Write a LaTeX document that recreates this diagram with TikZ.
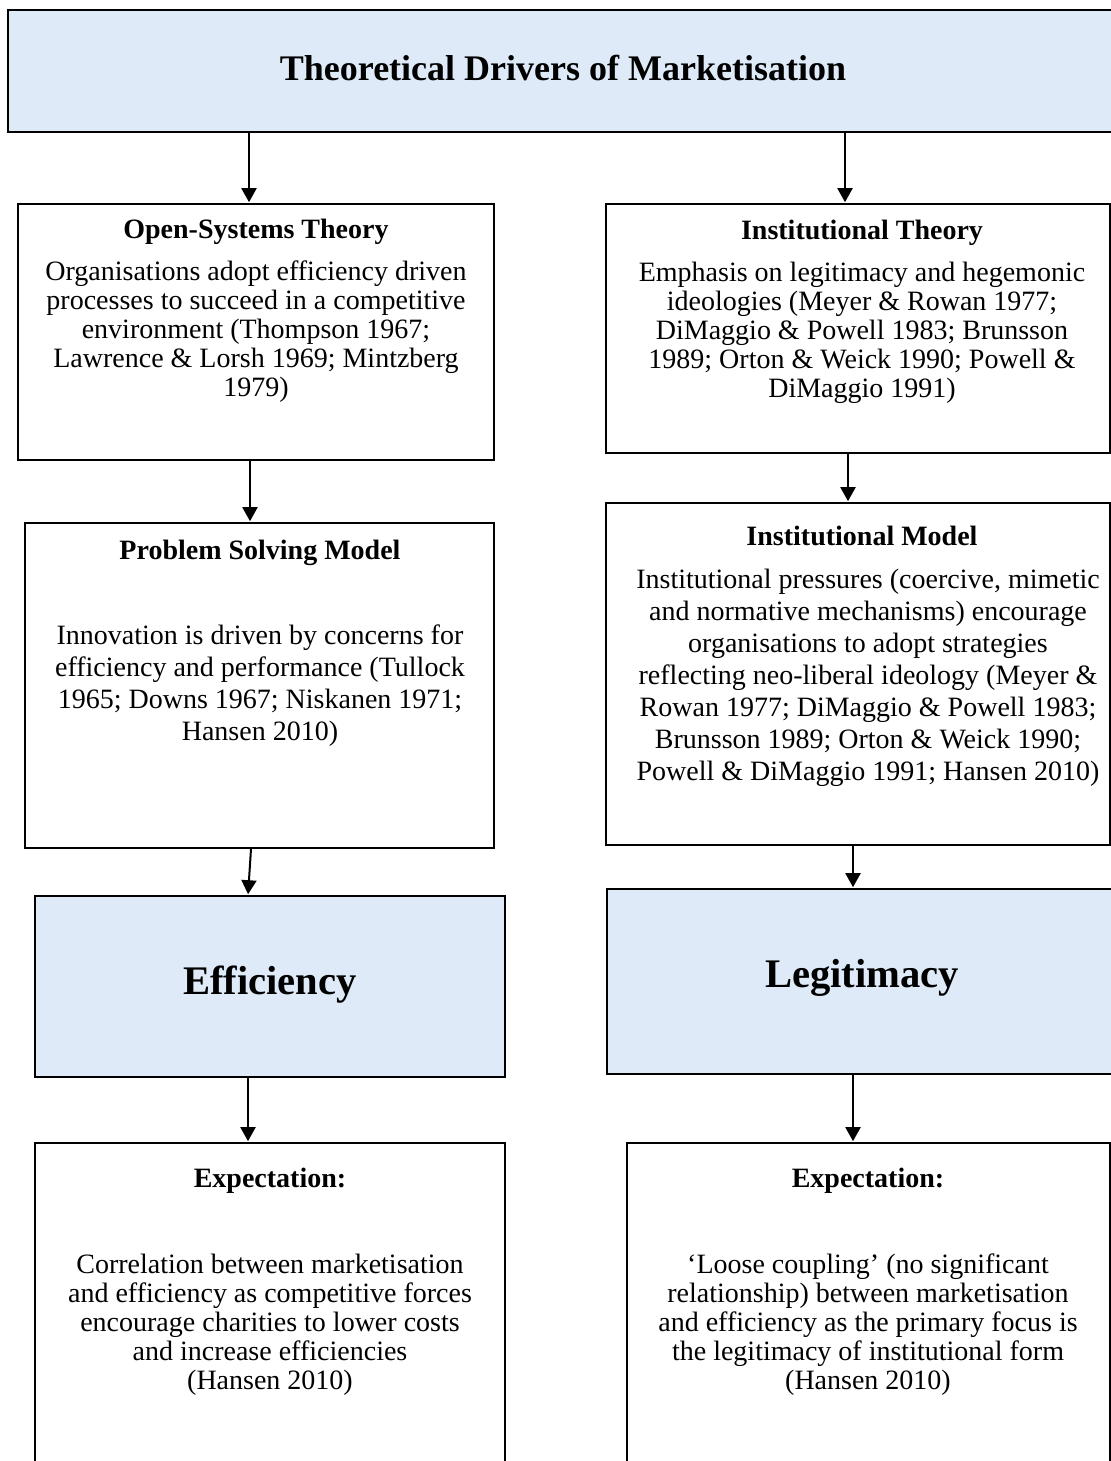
\documentclass[tikz,border=0pt]{standalone}
\usepackage{fontspec}
\setmainfont{Liberation Serif}
\usetikzlibrary{arrows.meta,fit}
\definecolor{boxblue}{HTML}{DEEAF7}
\begin{document}
\begin{tikzpicture}[x=0.5pt,y=-0.5pt,
  box/.style={draw=black,line width=1pt,inner sep=0pt},
  bluebox/.style={box,fill=boxblue},
  conn/.style={line width=1pt,-{Triangle[length=7pt,width=7.5pt]},shorten >=0.4pt},
  head/.style={inner sep=0pt,font=\bfseries\fontsize{14}{16}\selectfont},
  bodyA/.style={align=center,inner sep=0pt,font=\fontsize{14}{14.5}\selectfont},
  bodyB/.style={align=center,inner sep=0pt,font=\fontsize{14}{16}\selectfont},
  big/.style={inner sep=0pt,font=\bfseries\fontsize{20.3}{24}\selectfont},
  titletext/.style={inner sep=0pt,font=\bfseries\fontsize{18}{22}\selectfont}]
\useasboundingbox (0,0) rectangle (1111,1461);
\fill[white] (0,0) rectangle (1111,1461);
\clip (0,0) rectangle (1111,1461);

% boxes
\node[bluebox,fit={(8,10) (1130,132)}] (top) {};
\node[box,fit={(18,204) (494,460)}] (ost) {};
\node[box,fit={(606,204) (1110,453)}] (it) {};
\node[box,fit={(25,523) (494,848)}] (psm) {};
\node[box,fit={(606,503) (1110,845)}] (im) {};
\node[bluebox,fit={(35,896) (505,1077)}] (eff) {};
\node[bluebox,fit={(607,889) (1130,1074)}] (leg) {};
\node[box,fit={(35,1143) (505,1480)}] (expl) {};
\node[box,fit={(627,1143) (1110,1480)}] (expr) {};

% texts
\node[titletext] (ttitle) at (563,68) {Theoretical Drivers of Marketisation};
\node[head] (host) at (256,232) {Open-Systems Theory};
\node[bodyA] (bost) at (256,332) {Organisations adopt efficiency driven\\processes to succeed in a competitive\\environment (Thompson 1967;\\Lawrence \& Lorsh 1969; Mintzberg\\1979)};
\node[head] (hit) at (862,233) {Institutional Theory};
\node[bodyA] (bit) at (862,333) {Emphasis on legitimacy and hegemonic\\ideologies (Meyer \& Rowan 1977;\\DiMaggio \& Powell 1983; Brunsson\\1989; Orton \& Weick 1990; Powell \&\\DiMaggio 1991)};
\node[head] (hpsm) at (260,553) {Problem Solving Model};
\node[bodyB] (bpsm) at (260,686) {Innovation is driven by concerns for\\efficiency and performance (Tullock\\1965; Downs 1967; Niskanen 1971;\\Hansen 2010)};
\node[head] (him) at (862,536) {Institutional Model};
\node[bodyB] (bim) at (868,678) {Institutional pressures (coercive, mimetic\\and normative mechanisms) encourage\\organisations to adopt strategies\\reflecting neo-liberal ideology (Meyer \&\\Rowan 1977; DiMaggio \& Powell 1983;\\Brunsson 1989; Orton \& Weick 1990;\\Powell \& DiMaggio 1991; Hansen 2010)};
\node[big] (teff) at (270,985) {Efficiency};
\node[big] (tleg) at (862,978) {Legitimacy};
\node[head] (hexpl) at (270,1181) {Expectation:};
\node[bodyA] (bexpl) at (270,1325) {Correlation between marketisation\\and efficiency as competitive forces\\encourage charities to lower costs\\and increase efficiencies\\(Hansen 2010)};
\node[head] (hexpr) at (868,1181) {Expectation:};
\node[bodyA] (bexpr) at (868,1325) {‘Loose coupling’ (no significant\\relationship) between marketisation\\and efficiency as the primary focus is\\the legitimacy of institutional form\\(Hansen 2010)};

% connectors
\coordinate (xa) at (249,0);
\coordinate (xb) at (845,0);
\coordinate (xc) at (250,0);
\coordinate (xd) at (848,0);
\coordinate (xe1) at (251,0);
\coordinate (xe2) at (248,0);
\coordinate (xf) at (853,0);
\coordinate (xg) at (248,0);
\coordinate (xh) at (853,0);
\draw[conn] (top.south -| xa) -- (ost.north -| xa);
\draw[conn] (top.south -| xb) -- (it.north -| xb);
\draw[conn] (ost.south -| xc) -- (psm.north -| xc);
\draw[conn] (it.south -| xd) -- (im.north -| xd);
\draw[conn] (psm.south -| xe1) -- (eff.north -| xe2);
\draw[conn] (im.south -| xf) -- (leg.north -| xf);
\draw[conn] (eff.south -| xg) -- (expl.north -| xg);
\draw[conn] (leg.south -| xh) -- (expr.north -| xh);
\end{tikzpicture}
\end{document}
